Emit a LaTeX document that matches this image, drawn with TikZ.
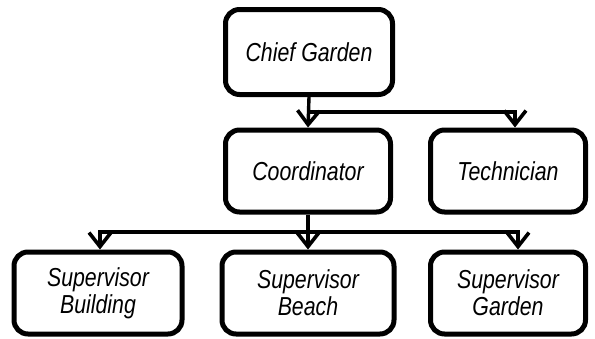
\documentclass[tikz,border=0pt]{standalone}
\usepackage{fontspec}
\setmainfont[FakeStretch=0.82]{Liberation Sans}
\usetikzlibrary{arrows.meta}
\begin{document}
\begin{tikzpicture}[x=1pt,y=-1pt,
  box/.style={draw, rounded corners=14pt, line width=5pt, align=center,
    font=\fontsize{26}{27}\selectfont\itshape, inner sep=0pt},
  conn/.style={line width=3.4pt, -{Straight Barb[length=14pt,width=22pt,line width=3.6pt]}}]
\useasboundingbox (0,0) rectangle (595,338);
\node[box, minimum width=167pt, minimum height=85pt] (chief) at (309,52) {Chief Garden};
\node[box, minimum width=165pt, minimum height=82pt] (coord) at (308,171) {Coordinator};
\node[box, minimum width=155pt, minimum height=82pt] (tech) at (508,171) {Technician};
\node[box, minimum width=168pt, minimum height=82pt] (build) at (98,293) {Supervisor\\Building};
\node[box, minimum width=172pt, minimum height=82pt] (beach) at (308,293) {Supervisor\\Beach};
\node[box, minimum width=155pt, minimum height=82pt] (garden) at (508,293) {Supervisor\\Garden};
\coordinate (bus1) at (515,112);
\coordinate (bus2L) at (100,232);
\coordinate (bus2R) at (518,232);
\draw[conn] (chief.south) -- (coord.north);
\draw[conn] (chief.south |- bus1) -| (bus1 |- tech.north);
\draw[conn] (coord.south) -- (beach.north);
\draw[conn] (coord.south |- bus2L) -| (bus2L |- build.north);
\draw[conn] (coord.south |- bus2R) -| (bus2R |- garden.north);
\end{tikzpicture}
\end{document}
